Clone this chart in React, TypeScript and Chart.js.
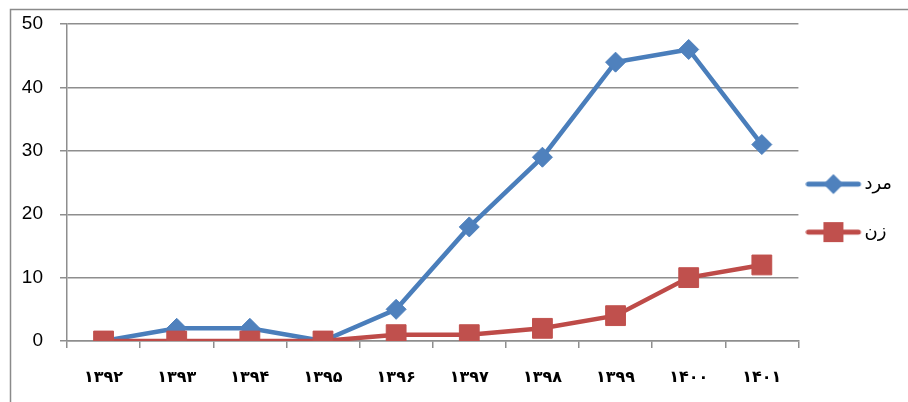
import React, { useEffect, useRef } from 'react';
import { Chart, registerables } from 'chart.js';

Chart.register(...registerables);

const years = ['۱۳۹۲', '۱۳۹۳', '۱۳۹۴', '۱۳۹۵', '۱۳۹۶', '۱۳۹۷', '۱۳۹۸', '۱۳۹۹', '۱۴۰۰', '۱۴۰۱'];
const menValues = [0, 2, 2, 0, 5, 18, 29, 44, 46, 31];
const womenValues = [0, 0, 0, 0, 1, 1, 2, 4, 10, 12];
const yTicks = [0, 10, 20, 30, 40, 50];
const seriesNames = ['مرد', 'زن'];

const BLUE_LINE = '#4A7EBB';
const BLUE_FILL = '#4F81BD';
const RED_LINE = '#BE4B48';
const RED_FILL = '#C0504D';
const GRID = '#8e8e8e';

// legend icon: line with a marker; content on the left 56px of a 73px wide image
function makeIcon(lineColor: string, fill: string, shape: 'diamond' | 'square') {
  const c = document.createElement('canvas');
  c.width = 73;
  c.height = 24;
  const ctx = c.getContext('2d')!;
  ctx.strokeStyle = lineColor;
  ctx.lineWidth = 5;
  ctx.lineCap = 'round';
  ctx.beginPath();
  ctx.moveTo(3, 12);
  ctx.lineTo(53, 12);
  ctx.stroke();
  ctx.fillStyle = fill;
  ctx.beginPath();
  if (shape === 'diamond') {
    ctx.moveTo(28 - 10, 12);
    ctx.lineTo(28, 2);
    ctx.lineTo(28 + 10, 12);
    ctx.lineTo(28, 22);
    ctx.closePath();
  } else {
    ctx.rect(18, 2, 20, 20);
  }
  ctx.fill();
  return c;
}

const framePlugin = {
  id: 'frame',
  beforeDraw(chart: any) {
    const ctx = chart.ctx;
    ctx.save();
    ctx.fillStyle = '#ffffff';
    ctx.fillRect(0, 0, chart.width, chart.height);
    ctx.strokeStyle = '#8a8a8a';
    ctx.lineWidth = 1.5;
    ctx.strokeRect(10.5, 9.5, chart.width + 50, chart.height + 50);
    ctx.restore();
  },
};

export default function App() {
  const ref = useRef<HTMLCanvasElement | null>(null);

  useEffect(() => {
    if (!ref.current) return;
    const icons = [makeIcon(BLUE_LINE, BLUE_FILL, 'diamond'), makeIcon(RED_LINE, RED_FILL, 'square')];
    const chart = new Chart(ref.current, {
      type: 'line',
      data: {
        labels: years,
        datasets: [
          {
            label: seriesNames[0],
            data: menValues,
            borderColor: BLUE_LINE,
            backgroundColor: BLUE_FILL,
            borderWidth: 4.5,
            pointStyle: 'rectRot',
            pointRadius: 10,
            pointBackgroundColor: BLUE_FILL,
            pointBorderColor: BLUE_FILL,
            pointBorderWidth: 1,
            tension: 0,
            order: 1,
          },
          {
            label: seriesNames[1],
            data: womenValues,
            borderColor: RED_LINE,
            backgroundColor: RED_FILL,
            borderWidth: 4.5,
            pointStyle: 'rect',
            pointRadius: 14,
            pointBackgroundColor: RED_FILL,
            pointBorderColor: RED_FILL,
            pointBorderWidth: 1,
            tension: 0,
            order: 0,
          },
        ],
      },
      options: {
        responsive: false,
        animation: false,
        devicePixelRatio: 1,
        layout: { padding: { left: 10, top: 6, right: 6, bottom: 0 } },
        plugins: {
          tooltip: { enabled: false },
          legend: {
            position: 'right',
            maxWidth: 109,
            title: {
              display: true,
              text: '',
              font: { size: 1 },
              padding: { top: 7, bottom: 0 },
            },
            labels: {
              usePointStyle: true,
              pointStyleWidth: 27,
              padding: 30,
              color: '#000',
              font: { family: 'DejaVu Sans', size: 18 },
              sort: (a: any, b: any) => a.datasetIndex - b.datasetIndex,
              generateLabels: (ch: any) => {
                const items = Chart.defaults.plugins.legend.labels.generateLabels(ch);
                items.forEach((it: any) => {
                  it.pointStyle = icons[it.datasetIndex];
                });
                return items;
              },
            },
          },
        },
        scales: {
          x: {
            offset: true,
            afterFit: (s: any) => {
              s.height = 61;
            },
            grid: {
              offset: true,
              drawOnChartArea: false,
              tickLength: 7,
              color: GRID,
              lineWidth: 1.5,
            },
            border: { color: GRID, width: 1.5 },
            ticks: {
              padding: 20,
              color: '#000',
              maxRotation: 0,
              font: { family: 'DejaVu Sans', size: 16, weight: 'bold' },
            },
          },
          y: {
            min: 0,
            max: 50,
            afterBuildTicks: (s: any) => {
              s.ticks = yTicks.map((v) => ({ value: v }));
            },
            afterFit: (s: any) => {
              s.width = 57;
            },
            grid: { color: GRID, lineWidth: 1.5, tickLength: 7 },
            border: { color: GRID, width: 1.5 },
            ticks: {
              padding: 17,
              color: '#000',
              font: { family: 'Liberation Sans', size: 19, lineHeight: 0.75 },
            },
          },
        },
      },
      plugins: [framePlugin],
    });
    return () => chart.destroy();
  }, []);

  return (
    <div style={{ position: 'absolute', left: 0, top: 0, width: 908, height: 402, overflow: 'hidden' }}>
      <canvas ref={ref} width={908} height={402} style={{ width: 908, height: 402 }} />
    </div>
  );
}
